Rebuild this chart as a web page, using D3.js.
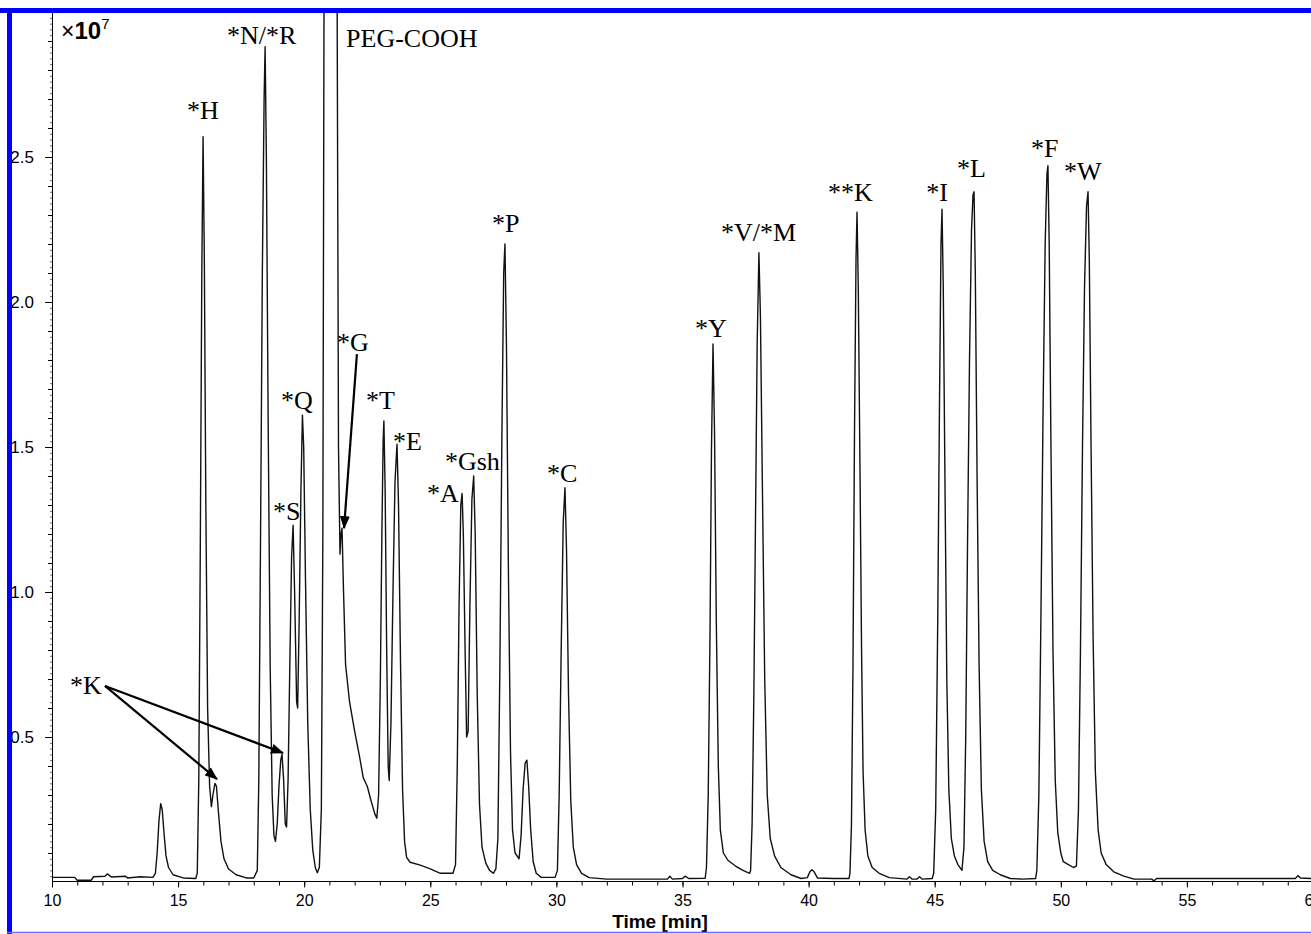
<!DOCTYPE html>
<html>
<head>
<meta charset="utf-8">
<script src="https://cdn.jsdelivr.net/npm/d3@7"></script>
<style>
  body { margin: 0; background: #fff; }
  svg { display: block; }
</style>
</head>
<body>
<script>
// Setup variables
const width = 1311;
const height = 934;
const xStart = 52, xEnd = 1313, yTop = 12, yBottom = 882;

// Chromatogram trace: [time (min), intensity (x10^7)]
const trace = [
  [10.0,0.016],[10.9,0.016],[11.0,0.006],[11.55,0.006],[11.65,0.018],[12.1,0.02],[12.2,0.028],[12.35,0.017],[12.9,0.02],[13.0,0.014],[13.5,0.018],[14.0,0.016],
  [14.1,0.03],[14.17,0.1],[14.24,0.21],[14.31,0.27],[14.37,0.25],[14.44,0.17],[14.52,0.09],[14.62,0.05],[14.8,0.025],[15.2,0.014],[15.7,0.012],
  [15.76,0.03],[15.82,0.35],[15.88,1.15],[15.94,2.1],[15.99,2.57],[16.04,2.15],[16.1,1.3],[16.17,0.6],[16.25,0.33],[16.32,0.26],[16.38,0.3],[16.46,0.34],[16.52,0.33],[16.6,0.24],[16.7,0.14],[16.82,0.08],[17.0,0.045],[17.3,0.025],[17.7,0.014],[18.0,0.014],
  [18.14,0.04],[18.2,0.35],[18.27,1.2],[18.34,2.1],[18.41,2.7],[18.45,2.88],[18.5,2.5],[18.57,1.6],[18.65,0.75],[18.73,0.3],[18.8,0.16],[18.86,0.14],[18.93,0.2],
  [19.0,0.33],[19.07,0.42],[19.12,0.44],[19.18,0.36],[19.25,0.2],[19.3,0.19],
  [19.36,0.35],[19.43,0.75],[19.5,1.12],[19.56,1.23],[19.62,1.0],[19.7,0.62],[19.74,0.6],
  [19.8,0.9],[19.87,1.35],[19.93,1.61],[19.98,1.5],[20.05,1.05],[20.14,0.55],[20.24,0.25],[20.34,0.11],[20.44,0.05],[20.52,0.032],[20.6,0.05],
  [20.68,0.25],[20.74,1.2],[20.79,3.2],[20.82,5.0],[21.26,5.0],[21.3,3.2],[21.36,1.5],[21.42,1.13],[21.46,1.2],[21.5,1.22],[21.56,1.0],[21.64,0.75],
  [21.8,0.62],[22.0,0.52],[22.2,0.43],[22.34,0.36],[22.42,0.345],[22.5,0.33],[22.65,0.28],[22.8,0.235],[22.88,0.22],
  [22.95,0.3],[23.02,0.7],[23.08,1.2],[23.13,1.52],[23.16,1.59],[23.21,1.35],[23.27,0.8],[23.33,0.4],[23.37,0.35],
  [23.44,0.55],[23.52,1.0],[23.6,1.38],[23.68,1.51],[23.74,1.3],[23.82,0.75],[23.9,0.32],[23.98,0.14],[24.06,0.085],[24.2,0.068],[24.6,0.058],[25.0,0.045],[25.4,0.03],[25.9,0.03],
  [26.0,0.06],[26.07,0.4],[26.14,0.95],[26.21,1.3],[26.26,1.34],[26.31,1.2],[26.38,0.8],[26.44,0.5],[26.5,0.52],
  [26.57,0.95],[26.65,1.32],[26.72,1.4],[26.78,1.2],[26.86,0.65],[26.95,0.27],[27.05,0.12],[27.2,0.065],[27.35,0.04],[27.5,0.03],[27.6,0.045],
  [27.68,0.15],[27.76,0.75],[27.84,1.55],[27.91,2.1],[27.96,2.2],[28.02,1.85],[28.1,1.05],[28.18,0.45],[28.26,0.18],[28.36,0.1],[28.52,0.08],
  [28.6,0.16],[28.68,0.32],[28.76,0.41],[28.83,0.42],[28.9,0.33],[28.98,0.18],[29.08,0.07],[29.2,0.03],[29.4,0.016],[29.95,0.016],
  [30.04,0.04],[30.11,0.3],[30.19,0.8],[30.27,1.24],[30.34,1.36],[30.4,1.15],[30.48,0.65],[30.57,0.28],[30.67,0.12],[30.8,0.06],[31.0,0.03],[31.3,0.015],
  [32.0,0.01],[34.4,0.01],[34.5,0.02],[34.6,0.01],[35.0,0.012],[35.1,0.02],[35.25,0.012],[35.9,0.013],
  [35.95,0.05],[36.02,0.3],[36.09,0.85],[36.15,1.5],[36.21,1.855],[36.27,1.55],[36.34,0.9],[36.42,0.4],[36.5,0.18],[36.62,0.1],[36.8,0.075],[37.1,0.055],[37.4,0.04],[37.66,0.03],
  [37.7,0.04],[37.76,0.2],[37.83,0.65],[37.9,1.3],[37.96,1.85],[38.03,2.17],[38.09,1.95],[38.17,1.35],[38.26,0.7],[38.36,0.3],[38.48,0.15],[38.65,0.09],[38.9,0.05],[39.3,0.025],[39.7,0.012],
  [39.95,0.015],[40.05,0.035],[40.13,0.042],[40.22,0.035],[40.35,0.014],[41.0,0.012],[41.6,0.012],
  [41.64,0.03],[41.7,0.2],[41.76,0.75],[41.82,1.55],[41.88,2.15],[41.92,2.31],[41.97,2.05],[42.04,1.4],[42.1,0.8],[42.16,0.38],[42.24,0.18],[42.35,0.09],[42.52,0.05],[42.8,0.03],[43.2,0.015],
  [43.9,0.01],[44.0,0.018],[44.1,0.01],[44.3,0.01],[44.4,0.018],[44.5,0.01],[44.9,0.012],
  [44.96,0.03],[45.04,0.25],[45.12,0.9],[45.19,1.65],[45.25,2.2],[45.29,2.32],[45.34,2.05],[45.41,1.35],[45.48,0.7],[45.56,0.32],[45.66,0.15],[45.78,0.09],[45.92,0.06],[46.08,0.04],
  [46.16,0.12],[46.23,0.5],[46.3,1.15],[46.38,1.8],[46.46,2.25],[46.52,2.37],[46.56,2.38],[46.61,2.1],[46.68,1.4],[46.76,0.75],[46.85,0.32],[46.96,0.14],[47.1,0.07],[47.3,0.04],[47.6,0.025],[48.0,0.012],[48.5,0.01],[49.0,0.012],
  [49.05,0.04],[49.13,0.3],[49.21,0.9],[49.3,1.65],[49.38,2.2],[49.45,2.44],[49.49,2.47],[49.54,2.2],[49.61,1.5],[49.69,0.8],[49.78,0.35],[49.88,0.17],[50.0,0.1],[50.1,0.07],[50.3,0.06],[50.5,0.05],[50.62,0.055],
  [50.7,0.25],[50.78,0.8],[50.86,1.5],[50.94,2.05],[51.02,2.33],[51.08,2.38],[51.13,2.15],[51.2,1.5],[51.28,0.85],[51.37,0.38],[51.48,0.18],[51.6,0.1],[51.8,0.06],[52.1,0.035],[52.5,0.02],[52.9,0.01],
  [53.6,0.01],[53.7,0.004],[53.8,0.012],[59.3,0.012],[59.4,0.022],[59.5,0.014],[60.0,0.012]
];

// Tick values
const xMajorTicks = d3.range(10, 61, 5);
const xMinorTicks = d3.range(10, 61, 1);
const yMajorTicks = [0.5, 1.0, 1.5, 2.0, 2.5];
const yMinorTicks = d3.range(0.1, 3.0, 0.1);

// Peak labels: text and anchor in data units (left / baseline)
const peakLabels = [
  { text: "*H", t: 15.35, v: 2.63 },
  { text: "*N/*R", t: 16.94, v: 2.89 },
  { text: "PEG-COOH", t: 21.66, v: 2.88 },
  { text: "*Q", t: 19.08, v: 1.63 },
  { text: "*S", t: 18.76, v: 1.25 },
  { text: "*G", t: 21.30, v: 1.83 },
  { text: "*T", t: 22.45, v: 1.63 },
  { text: "*E", t: 23.52, v: 1.49 },
  { text: "*A", t: 24.87, v: 1.31 },
  { text: "*Gsh", t: 25.58, v: 1.42 },
  { text: "*P", t: 27.45, v: 2.24 },
  { text: "*C", t: 29.63, v: 1.38 },
  { text: "*Y", t: 35.50, v: 1.88 },
  { text: "*V/*M", t: 36.53, v: 2.21 },
  { text: "**K", t: 40.77, v: 2.35 },
  { text: "*I", t: 44.66, v: 2.35 },
  { text: "*L", t: 45.88, v: 2.43 },
  { text: "*F", t: 48.82, v: 2.50 },
  { text: "*W", t: 50.13, v: 2.42 },
  { text: "*K", t: 10.71, v: 0.65 }
];

// Arrows from label to peak, data units
const arrows = [
  { t1: 22.09, v1: 1.82, t2: 21.58, v2: 1.22 },
  { t1: 12.10, v1: 0.676, t2: 16.54, v2: 0.355 },
  { t1: 12.10, v1: 0.676, t2: 19.16, v2: 0.445 }
];

// Create the svg
const svg = d3.select("body")
      .append("svg")
      .attr("width", width)
      .attr("height", height);

svg.append("rect").attr("width", width).attr("height", height).attr("fill", "white");

// Scales
const x = d3.scaleLinear().domain([10, 60]).range([xStart, xEnd]);
const y = d3.scaleLinear().domain([0, 3]).range([yBottom, yTop]);

// Clip for the trace
svg.append("clipPath").attr("id", "plotClip")
    .append("rect")
    .attr("x", xStart).attr("y", yTop)
    .attr("width", xEnd - xStart + 10).attr("height", yBottom - yTop);

const axisFont = "'Liberation Sans', Arial, sans-serif";
const labelFont = "'Liberation Serif', 'Times New Roman', serif";

// x axis: minor then major ticks
const xAxisMinor = d3.axisBottom(x).tickValues(xMinorTicks).tickSize(4).tickFormat("");
const xAxisMajor = d3.axisBottom(x).tickValues(xMajorTicks).tickSize(6).tickSizeOuter(0).tickPadding(7);

const gxMinor = svg.append("g").attr("transform", `translate(0, ${yBottom - 0.5})`).call(xAxisMinor);
gxMinor.select(".domain").remove();
const gx = svg.append("g").attr("transform", `translate(0, ${yBottom - 0.5})`).call(xAxisMajor);
gx.select(".domain").attr("d", `M${xStart},0H${width}`);
gx.selectAll("text").attr("font-family", axisFont).attr("font-size", 16).attr("fill", "#000");

// y axis: fine hatch, minor and major ticks
const yAxisFine = d3.axisLeft(y).tickValues(d3.range(0.02, 3.0, 0.02)).tickSize(2).tickFormat("");
const yAxisMinor = d3.axisLeft(y).tickValues(yMinorTicks).tickSize(4).tickFormat("");
const yAxisMajor = d3.axisLeft(y).tickValues(yMajorTicks).tickSize(7).tickSizeOuter(0).tickPadding(11)
      .tickFormat(d3.format(".1f"));

const gyFine = svg.append("g").attr("transform", `translate(${xStart}, 0)`).call(yAxisFine);
gyFine.select(".domain").remove();
gyFine.selectAll("line").attr("stroke-width", 0.6);
const gyMinor = svg.append("g").attr("transform", `translate(${xStart}, 0)`).call(yAxisMinor);
gyMinor.select(".domain").remove();
const gy = svg.append("g").attr("transform", `translate(${xStart}, 0)`).call(yAxisMajor);
gy.selectAll("text").attr("font-family", axisFont).attr("font-size", 17).attr("fill", "#000");

// Axis title
svg.append("text")
    .attr("x", 660).attr("y", 928)
    .attr("text-anchor", "middle")
    .attr("font-family", axisFont)
    .attr("font-weight", "bold")
    .attr("font-size", 19)
    .text("Time [min]");

// Scale factor label
const factor = svg.append("text")
    .attr("x", 61).attr("y", 39)
    .attr("font-family", axisFont)
    .attr("fill", "#000");
factor.append("tspan").attr("font-size", 23).text("\u00d7");
factor.append("tspan").attr("font-size", 24).attr("font-weight", "bold").text("10");
factor.append("tspan").attr("font-size", 15).attr("dy", -10).text("7");

// The trace
const line = d3.line()
      .x(d => x(d[0]))
      .y(d => y(d[1]));

svg.append("path")
    .datum(trace)
    .attr("clip-path", "url(#plotClip)")
    .attr("fill", "none")
    .attr("stroke", "#111")
    .attr("stroke-width", 1.4)
    .attr("stroke-linejoin", "round")
    .attr("d", line);

// Peak labels
svg.selectAll("text.peak")
    .data(peakLabels)
    .join("text")
    .attr("class", "peak")
    .attr("x", d => x(d.t))
    .attr("y", d => y(d.v))
    .attr("font-family", labelFont)
    .attr("font-size", 26)
    .attr("fill", "#000")
    .text(d => d.text);

// Arrow heads
svg.append("defs").append("marker")
    .attr("id", "head")
    .attr("markerUnits", "userSpaceOnUse")
    .attr("viewBox", "0 0 13 10")
    .attr("refX", 12).attr("refY", 5)
    .attr("markerWidth", 13).attr("markerHeight", 10)
    .attr("orient", "auto")
    .append("path")
    .attr("d", "M0,0L13,5L0,10Z")
    .attr("fill", "#000");

svg.selectAll("line.arrow")
    .data(arrows)
    .join("line")
    .attr("class", "arrow")
    .attr("x1", d => x(d.t1)).attr("y1", d => y(d.v1))
    .attr("x2", d => x(d.t2)).attr("y2", d => y(d.v2))
    .attr("stroke", "#000")
    .attr("stroke-width", 2.2)
    .attr("marker-end", "url(#head)");

// Blue frame around the figure
svg.append("rect").attr("x", 0).attr("y", 8).attr("width", width).attr("height", 5).attr("fill", "#0000ff");
svg.append("rect").attr("x", 7).attr("y", 8).attr("width", 5).attr("height", height - 8).attr("fill", "#0000ff");
svg.append("line")
    .attr("x1", 7).attr("x2", width)
    .attr("y1", 932.5).attr("y2", 932.5)
    .attr("stroke", "#6a6aff")
    .attr("stroke-width", 1.5);
</script>
</body>
</html>
